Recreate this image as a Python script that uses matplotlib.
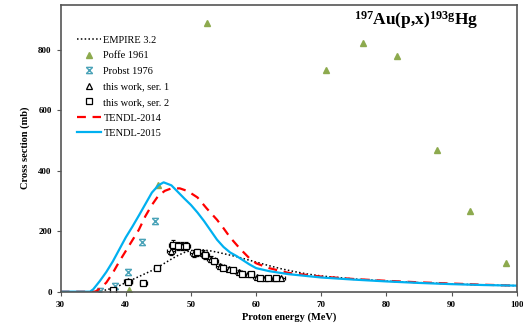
import numpy as np
import matplotlib
matplotlib.use("Agg")
import matplotlib.pyplot as plt
from matplotlib.path import Path
from matplotlib.lines import Line2D

plt.rcParams['font.family'] = ['Liberation Serif', 'DejaVu Serif']
plt.rcParams['mathtext.fontset'] = 'custom'
plt.rcParams['mathtext.rm'] = 'Liberation Serif'
plt.rcParams['mathtext.bf'] = 'Liberation Serif:bold'

# model curves
tendl15_E = [30, 34.5, 35, 36, 37, 38, 39, 40, 41, 42, 43, 44, 45, 45.8, 47, 48, 49, 50,
             51, 52, 53, 54, 55, 56, 57, 58, 59, 60, 62, 65, 70, 75, 80, 85, 90, 95, 100]
tendl15_xs = [0, 0, 8, 35, 65, 100, 140, 180, 215, 252, 290, 328, 352, 362, 352, 330, 308, 287,
              262, 234, 203, 172, 148, 130, 118, 104, 90, 78, 68, 58, 47, 40, 34, 29, 25, 22, 20]
tendl14_E = [30, 35.3, 36, 37, 38, 39, 40, 41, 42, 43, 44, 45, 46, 47, 48.3, 49.5, 51, 52.4,
             54, 55, 56, 57.5, 59, 60, 62, 65, 70, 75, 80, 85, 90, 95, 100]
tendl14_xs = [0, 0, 10, 30, 62, 100, 135, 170, 205, 250, 287, 318, 334, 342, 342, 333, 312, 276,
              238, 210, 180, 143, 110, 94, 78, 62, 50, 42, 36, 31, 27, 23, 20]
empire_E = [35, 36, 37, 38, 39, 40, 41, 42, 43, 44, 45, 46, 47, 48, 49, 50, 51, 52, 53, 54,
            55, 56, 57, 58, 59, 60, 62, 64, 66, 68, 70, 75, 80, 85, 90, 95, 100]
empire_xs = [0, 2, 6, 12, 20, 30, 40, 50, 60, 70, 82, 95, 108, 120, 130, 136, 139, 138, 135, 131,
             126, 121, 116, 110, 104, 98, 86, 75, 66, 58, 52, 42, 35, 30, 26, 22, 20]

# literature data
poffe_E = [40.5, 44.9, 52.5, 70.8, 76.4, 81.7, 87.8, 92.9, 98.4]
poffe_xs = [7, 353, 888, 734, 823, 779, 468, 267, 96]
probst_E = [36.1, 38.3, 40.3, 42.5, 44.5]
probst_xs = [2, 19, 66, 165, 234]

# this work
ser1_E = [40.3, 46.9, 48.6, 50.4, 51.8, 53.1, 54.5, 55.9, 57.3, 58.7, 60.1, 61.4, 62.7, 63.8]
ser1_xs = [35, 135, 152, 128, 128, 108, 85, 75, 66, 57, 48, 46, 45, 44]
ser2_E = [38.0, 40.4, 42.7, 44.8, 47.2, 48.0, 49.3, 50.9, 52.2, 53.6, 54.9, 56.4, 57.8, 59.2,
          60.6, 61.8, 63.1]
ser2_xs = [7, 33, 28, 78, 156, 150, 152, 130, 120, 100, 80, 73, 58, 57, 45, 45, 44]

# Excel-like star marker: x with bars on top and bottom
star = Path([(-1, -1), (1, 1), (-1, 1), (1, -1), (-1, 1), (1, 1), (-1, -1), (1, -1)],
            [Path.MOVETO, Path.LINETO, Path.MOVETO, Path.LINETO,
             Path.MOVETO, Path.LINETO, Path.MOVETO, Path.LINETO])

fig = plt.figure(figsize=(5.23, 3.29), dpi=100)
ax = fig.add_axes([0.116, 0.1134, 0.872, 0.8723])

ax.plot(empire_E, empire_xs, color='black', ls=(0, (1, 1.5)), lw=1.1)
ax.plot(poffe_E, poffe_xs, ls='none', marker='^', ms=5, color='#8DAA4E')
ax.plot(probst_E, probst_xs, ls='none', marker=star, ms=4.5, mew=1.0, color='#4BA3B8',
        mfc='none')
ax.errorbar(ser1_E, ser1_xs, xerr=0.6, yerr=[x * 0.09 for x in ser1_xs], ls='none',
            marker='^', ms=4, mfc='white', mec='black', mew=0.9, ecolor='black',
            elinewidth=0.7, capsize=1.5)
ax.errorbar(ser2_E, ser2_xs, xerr=0.5, yerr=[x * 0.09 for x in ser2_xs], ls='none',
            marker='s', ms=4, mfc='white', mec='black', mew=0.9, ecolor='black',
            elinewidth=0.7, capsize=1.5)
ax.plot(tendl14_E, tendl14_xs, color='#FF0000', ls=(0, (4, 3)), lw=1.6)
ax.plot(tendl15_E, tendl15_xs, color='#00B0F0', lw=1.6)

ax.set_xlim(30, 100)
ax.set_ylim(0, 950)
ax.set_xticks(range(30, 101, 10))
ax.set_yticks(range(0, 801, 200))
ax.tick_params(labelsize=6.5, length=3, width=0.8, color='#555555')
for lab in ax.get_xticklabels() + ax.get_yticklabels():
    lab.set_fontweight('bold')
for sp in ax.spines.values():
    sp.set_color('#555555')
    sp.set_linewidth(1.2)

ax.set_xlabel('Proton energy (MeV)', fontsize=7.5, fontweight='bold', labelpad=3)
ax.set_ylabel('Cross section (mb)', fontsize=7.5, fontweight='bold', labelpad=6)

ax.text(0.78, 0.945, r'$\mathbf{^{197}Au(p{,}x)^{193g}Hg}$', transform=ax.transAxes,
        ha='center', va='center', fontsize=12.5)

handles = [
    Line2D([], [], color='black', ls=(0, (1, 1.5)), lw=1.1),
    Line2D([], [], ls='none', marker='^', ms=5, color='#8DAA4E'),
    Line2D([], [], ls='none', marker=star, ms=4.5, mew=1.0, color='#4BA3B8'),
    Line2D([], [], ls='none', marker='^', ms=4, mfc='white', mec='black', mew=0.9),
    Line2D([], [], ls='none', marker='s', ms=4, mfc='white', mec='black', mew=0.9),
    Line2D([], [], color='#FF0000', ls=(0, (4, 3)), lw=1.6),
    Line2D([], [], color='#00B0F0', lw=1.6),
]
labels = ['EMPIRE 3.2', 'Poffe 1961', 'Probst 1976', 'this work, ser. 1',
          'this work, ser. 2', 'TENDL-2014', 'TENDL-2015']
ax.legend(handles, labels, loc='upper left', bbox_to_anchor=(0.015, 0.925), frameon=False,
          fontsize=7.5, handlelength=2.3, labelspacing=0.6, handletextpad=0.25)

fig.savefig('out.png', dpi=100)
